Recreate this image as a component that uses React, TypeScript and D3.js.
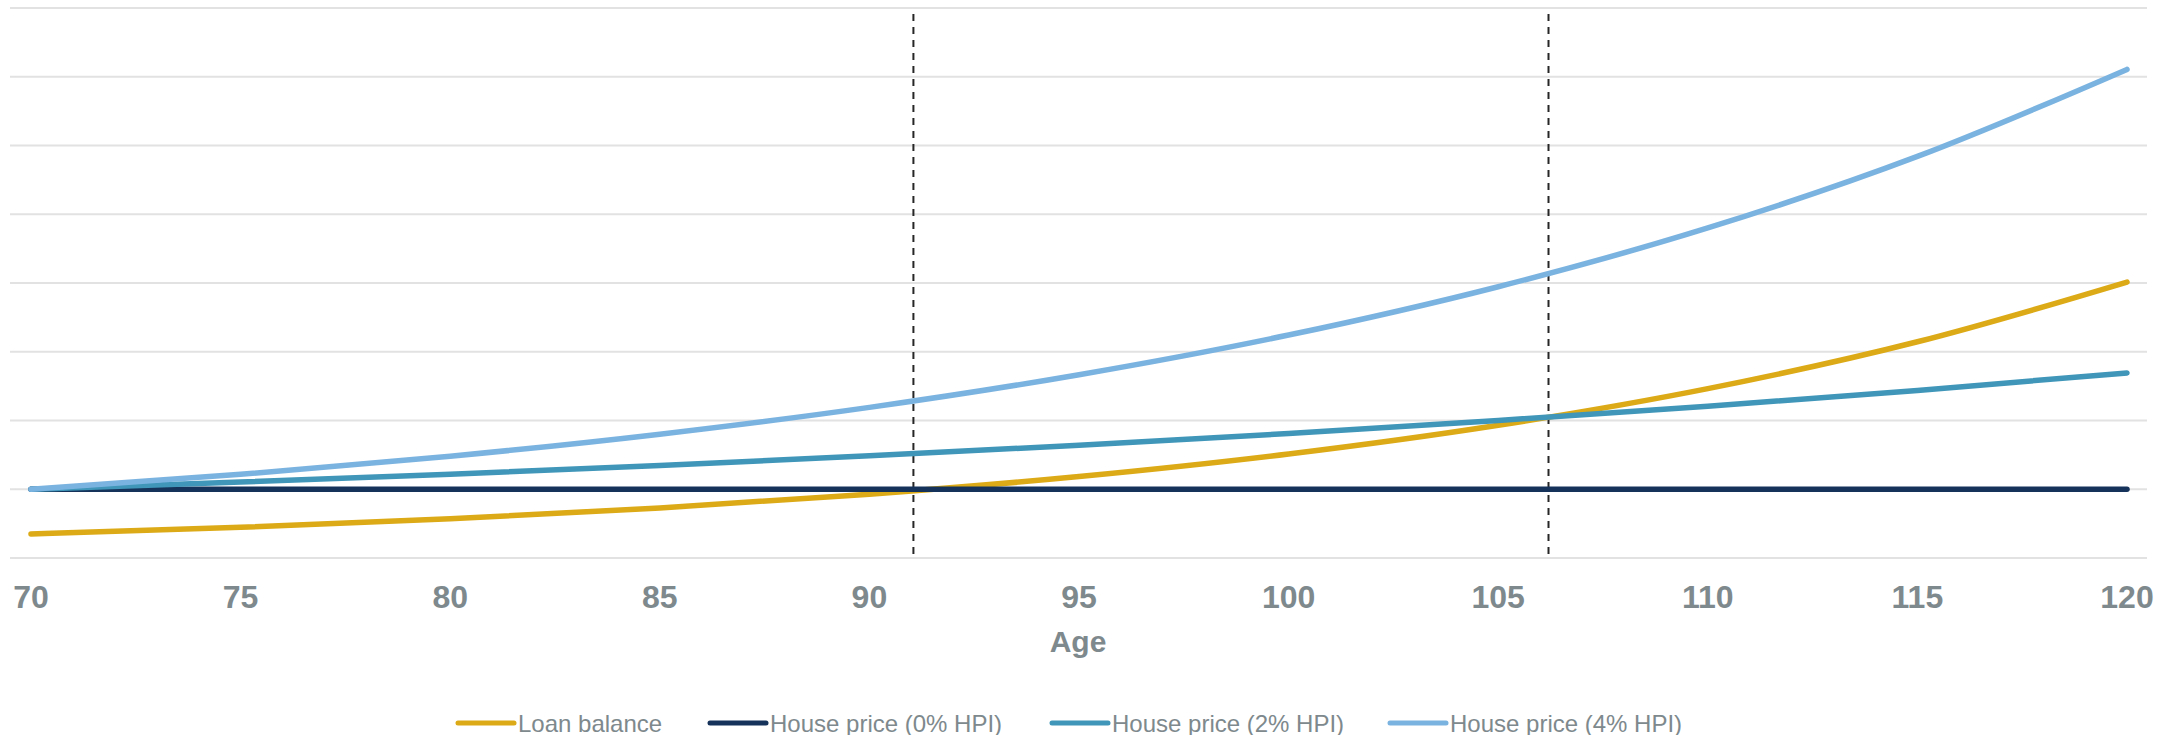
import React from "react";
import * as d3 from "d3";

// Ages on the x axis (sampled every five years)
const ages = [70, 75, 80, 85, 90, 95, 100, 105, 110, 115, 120];

// Values relative to the house price at age 70
const loanBalance = [0.35, 0.447, 0.57, 0.728, 0.929, 1.185, 1.513, 1.931, 2.464, 3.145, 4.014];
const housePrice0 = [1, 1, 1, 1, 1, 1, 1, 1, 1, 1, 1];
const housePrice2 = [1, 1.104, 1.219, 1.346, 1.486, 1.641, 1.811, 2.0, 2.208, 2.438, 2.692];
const housePrice4 = [1, 1.217, 1.48, 1.801, 2.191, 2.666, 3.243, 3.946, 4.801, 5.841, 7.107];

// Ages where the loan balance overtakes the house price
const crossoverAges = [91.05, 106.2];

const xTicks = [70, 75, 80, 85, 90, 95, 100, 105, 110, 115, 120];
const gridValues = [0, 1, 2, 3, 4, 5, 6, 7, 8];

const seriesNames = ["Loan balance", "House price (0% HPI)", "House price (2% HPI)", "House price (4% HPI)"];
const seriesColors = ["#DCAA16", "#15335A", "#3F96B9", "#7BB3E0"];
const seriesValues = [loanBalance, housePrice0, housePrice2, housePrice4];

const W = 2184;
const H = 735;
const FONT = "'Liberation Sans', Arial, Helvetica, sans-serif";
const TEXT_GREY = "#7E898D";

export default function App() {
  const x = d3.scaleLinear().domain([70, 120]).range([31, 2127]);
  const y = d3.scaleLinear().domain([0, 8]).range([558, 8]);

  const line = d3
    .line<number>()
    .x((_, i) => x(ages[i]))
    .y((d) => y(d))
    .curve(d3.curveMonotoneX);

  // Legend layout: swatch then label, items laid out left to right
  const legendStarts = [458, 710, 1052, 1390];
  const swatchLen = 56;

  return (
    <svg
      width={W}
      height={H}
      viewBox={`0 0 ${W} ${H}`}
      style={{ position: "absolute", left: 0, top: 0, background: "#fff" }}
    >
      {/* horizontal gridlines */}
      <g>
        {gridValues.map((v) => (
          <line key={v} x1={10} x2={2147} y1={y(v)} y2={y(v)} stroke="#E2E2E2" strokeWidth={1.8} />
        ))}
      </g>

      {/* crossover markers */}
      <g>
        {crossoverAges.map((a) => (
          <line
            key={a}
            x1={x(a)}
            x2={x(a)}
            y1={14}
            y2={y(0)}
            stroke="#262626"
            strokeWidth={2}
            strokeDasharray="7 6"
          />
        ))}
      </g>

      {/* series */}
      <g fill="none" strokeWidth={5.5} strokeLinecap="round" strokeLinejoin="round">
        {seriesValues.map((vals, i) => (
          <path key={seriesNames[i]} d={line(vals) || ""} stroke={seriesColors[i]} />
        ))}
      </g>

      {/* x axis tick labels */}
      <g fontFamily={FONT} fontWeight="bold" fontSize={32} fill={TEXT_GREY} textAnchor="middle">
        {xTicks.map((t) => (
          <text key={t} x={x(t)} y={608}>
            {t}
          </text>
        ))}
      </g>
      <text
        x={1078}
        y={652}
        fontFamily={FONT}
        fontWeight="bold"
        fontSize={30}
        fill={TEXT_GREY}
        textAnchor="middle"
      >
        Age
      </text>

      {/* legend */}
      <g fontFamily={FONT} fontSize={24} fill={TEXT_GREY}>
        {seriesNames.map((name, i) => (
          <g key={name} transform={`translate(${legendStarts[i]},723)`}>
            <line x1={0} x2={swatchLen} y1={0} y2={0} stroke={seriesColors[i]} strokeWidth={5} strokeLinecap="round" />
            <text x={swatchLen + 4} y={8.5}>
              {name}
            </text>
          </g>
        ))}
      </g>
    </svg>
  );
}
